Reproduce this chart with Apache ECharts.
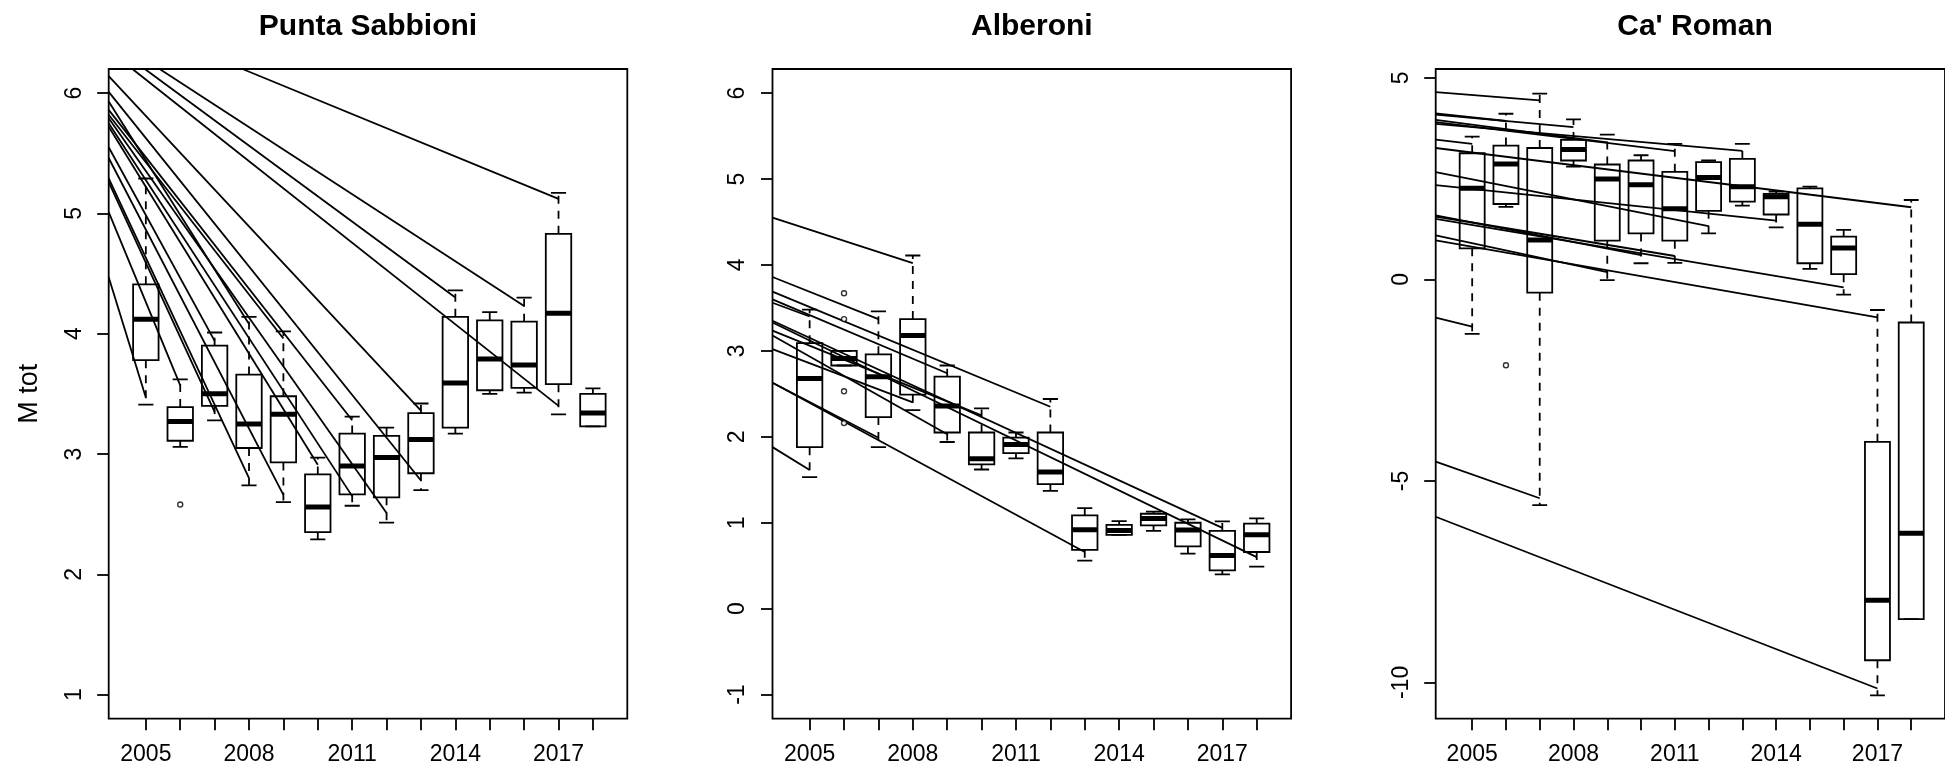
<!DOCTYPE html>
<html>
<head>
<meta charset="utf-8">
<script src="https://cdn.jsdelivr.net/npm/echarts@6/dist/echarts.min.js"></script>
<style>
html, body { margin: 0; padding: 0; background: #fff; }
#chart { width: 1945px; height: 768px; }
</style>
</head>
<body>
<div id="chart"></div>
<script>
// years on the x axis, labelled every third year
const years = [2005, 2006, 2007, 2008, 2009, 2010, 2011, 2012, 2013, 2014, 2015, 2016, 2017, 2018]
const yearLabels = [2005, 2008, 2011, 2014, 2017]
const xLeft = 2003.92
const xRight = 2019.0

// Punta Sabbioni: whisker ends, quartiles, median
const psLow = [3.41, 3.06, 3.28, 2.74, 2.60, 2.29, 2.57, 2.43, 2.70, 3.17, 3.50, 3.51, 3.33, 3.23]
const psQ1 = [3.78, 3.11, 3.40, 3.05, 2.93, 2.35, 2.665, 2.64, 2.84, 3.22, 3.53, 3.55, 3.58, 3.23]
const psMed = [4.12, 3.27, 3.50, 3.25, 3.33, 2.56, 2.90, 2.97, 3.12, 3.59, 3.79, 3.74, 4.17, 3.34]
const psQ3 = [4.41, 3.39, 3.90, 3.66, 3.48, 2.83, 3.17, 3.15, 3.34, 4.14, 4.11, 4.10, 4.83, 3.50]
const psHigh = [5.29, 3.62, 4.01, 4.14, 4.02, 2.97, 3.31, 3.22, 3.42, 4.36, 4.18, 4.30, 5.17, 3.545]
const psOut = [[2006, 2.58]]
const psTicks = [1, 2, 3, 4, 5, 6]
const psFrom = [[xLeft, 4.47], [xLeft, 5.01], [xLeft, 5.26], [xLeft, 5.29], [xLeft, 5.46], [xLeft, 5.55],
  [xLeft, 5.93], [xLeft, 5.82], [xLeft, 5.72], [xLeft, 5.86], [xLeft, 5.75], [xLeft, 5.79], [xLeft, 6.01],
  [xLeft, 6.14], [2004.61, 6.2], [2004.97, 6.2], [2005.40, 6.2], [2007.81, 6.2]]
const psTo = [[2005, 3.47], [2006, 3.57], [2007, 3.35], [2008, 2.80], [2009, 2.66], [2007, 3.94],
  [2008, 4.08], [2009, 3.96], [2010, 2.91], [2011, 3.28], [2011, 2.65], [2012, 2.51], [2013, 2.78],
  [2013, 3.36], [2017, 3.40], [2014, 4.30], [2016, 4.23], [2017, 5.12]]

// Alberoni
const alLow = [1.53, 2.83, 1.88, 2.31, 1.94, 1.62, 1.75, 1.37, 0.56, 0.86, 0.905, 0.64, 0.40, 0.49]
const alQ1 = [1.88, 2.83, 2.23, 2.49, 2.05, 1.68, 1.81, 1.45, 0.685, 0.86, 0.97, 0.725, 0.445, 0.66]
const alMed = [2.68, 2.91, 2.70, 3.18, 2.36, 1.745, 1.91, 1.59, 0.92, 0.91, 1.05, 0.915, 0.62, 0.86]
const alQ3 = [3.09, 3.00, 2.96, 3.37, 2.70, 2.05, 1.99, 2.05, 1.085, 0.975, 1.105, 1.00, 0.905, 0.99]
const alHigh = [3.48, 3.00, 3.46, 4.11, 2.83, 2.33, 2.05, 2.44, 1.17, 1.02, 1.13, 1.04, 1.015, 1.05]
const alOut = [[2006, 3.67], [2006, 3.37], [2006, 2.53], [2006, 2.16]]
const alTicks = [-1, 0, 1, 2, 3, 4, 5, 6]
const alFrom = [[xLeft, 4.55], [xLeft, 3.86], [xLeft, 3.69], [xLeft, 3.60], [xLeft, 3.56], [xLeft, 3.35],
  [xLeft, 3.33], [xLeft, 3.235], [xLeft, 3.18], [xLeft, 3.02], [xLeft, 2.63], [xLeft, 2.63], [xLeft, 1.88]]
const alTo = [[2008, 4.02], [2007, 3.37], [2012, 2.35], [2009, 2.74], [2005, 3.40], [2017, 0.94],
  [2018, 0.60], [2010, 2.25], [2009, 2.03], [2008, 2.40], [2013, 0.66], [2007, 1.99], [2005, 1.615]]

// Ca' Roman
const crLow = [-1.35, 1.80, -5.60, 2.80, -0.02, 0.40, 0.41, 1.14, 1.83, 1.29, 0.26, -0.38, -10.32, -8.43]
const crQ1 = [0.77, 1.87, -0.33, 2.95, 0.96, 1.14, 0.96, 1.70, 1.93, 1.61, 0.40, 0.13, -9.45, -8.43]
const crMed = [2.26, 2.86, 0.98, 3.22, 2.49, 2.35, 1.755, 2.53, 2.30, 2.05, 1.37, 0.78, -7.96, -6.30]
const crQ3 = [3.13, 3.32, 3.26, 3.46, 2.85, 2.95, 2.67, 2.91, 2.99, 2.12, 2.26, 1.06, -4.03, -1.07]
const crHigh = [3.54, 4.11, 4.61, 3.97, 3.59, 3.08, 3.36, 2.95, 3.36, 2.18, 2.30, 1.23, -0.76, 1.97]
const crOut = [[2006, -2.13]]
const crTicks = [-10, -5, 0, 5]
const crFrom = [[xLeft, 4.645], [xLeft, 4.12], [xLeft, 4.09], [xLeft, 3.96], [xLeft, 3.90], [xLeft, 3.86],
  [xLeft, 3.47], [xLeft, 3.26], [xLeft, 2.66], [xLeft, 2.34], [xLeft, 1.59], [xLeft, 1.56], [xLeft, 1.50],
  [xLeft, 1.09], [xLeft, 0.97], [xLeft, -0.95], [xLeft, -4.52], [xLeft, -5.89]]
const crTo = [[2007, 4.44], [2006, 3.93], [2008, 3.78], [2009, 3.40], [2011, 3.18], [2013, 3.19],
  [2005, 3.36], [2018, 1.79], [2012, 1.32], [2014, 1.46], [2010, 0.60], [2011, 0.58], [2016, -0.20],
  [2009, 0.18], [2017, -0.94], [2005, -1.17], [2007, -5.43], [2017, -10.15]]

const panels = [
  {title: 'Punta Sabbioni', low: psLow, q1: psQ1, med: psMed, q3: psQ3, high: psHigh, out: psOut,
    from: psFrom, to: psTo, ticks: psTicks, yMin: 0.8, yMax: 6.2, left: 108.7, yName: 'M tot'},
  {title: 'Alberoni', low: alLow, q1: alQ1, med: alMed, q3: alQ3, high: alHigh, out: alOut,
    from: alFrom, to: alTo, ticks: alTicks, yMin: -1.28, yMax: 6.28, left: 772.5, yName: ''},
  {title: "Ca' Roman", low: crLow, q1: crQ1, med: crMed, q3: crQ3, high: crHigh, out: crOut,
    from: crFrom, to: crTo, ticks: crTicks, yMin: -10.9, yMax: 5.22, left: 1435.7, yName: ''},
]

const FONT = "'Liberation Sans', Arial, sans-serif"
const gridW = 518.6
const gridH = 649.7
const gridTop = 69
const LW = 1.8

// R style box: open box, thick median, dashed whiskers, short staples
const renderBox = (params, api) => {
  const x = api.value(0)
  const lo = api.value(1), q1 = api.value(2), md = api.value(3), q3 = api.value(4), hi = api.value(5)
  const hw = 0.37, cw = 0.22
  const p = (a, b) => api.coord([a, b])
  const seg = (a, b, style) => ({type: 'line', shape: {x1: a[0], y1: a[1], x2: b[0], y2: b[1]}, style})
  const solid = {stroke: '#000', lineWidth: LW}
  const dashed = {stroke: '#000', lineWidth: LW, lineDash: [8, 7]}
  const tl = p(x - hw, q3)
  const br = p(x + hw, q1)
  return {
    type: 'group',
    children: [
      seg(p(x, q3), p(x, hi), dashed),
      seg(p(x, q1), p(x, lo), dashed),
      seg(p(x - cw, hi), p(x + cw, hi), solid),
      seg(p(x - cw, lo), p(x + cw, lo), solid),
      {type: 'rect', shape: {x: tl[0], y: tl[1], width: br[0] - tl[0], height: br[1] - tl[1]},
        style: {fill: 'none', stroke: '#000', lineWidth: LW}},
      seg(p(x - hw, md), p(x + hw, md), {stroke: '#000', lineWidth: 5}),
    ]
  }
}

const option = {animation: false, backgroundColor: '#fff', title: [], grid: [], xAxis: [], yAxis: [], series: []}

panels.forEach((pn, i) => {
  option.title.push({
    text: pn.title, left: pn.left + gridW / 2, top: 11.5, padding: 0, textAlign: 'center',
    textStyle: {fontFamily: FONT, fontSize: 30, fontWeight: 'bold', color: '#000'}
  })
  option.grid.push({
    left: pn.left, top: gridTop, width: gridW, height: gridH,
    show: true, borderColor: '#000', borderWidth: LW, backgroundColor: 'transparent'
  })
  option.xAxis.push({
    gridIndex: i, type: 'value', min: xLeft, max: xRight,
    axisLine: {show: false, onZero: false}, splitLine: {show: false},
    axisTick: {customValues: years, length: 11.5, lineStyle: {color: '#000', width: LW}},
    axisLabel: {customValues: yearLabels, color: '#000', fontSize: 23, fontFamily: FONT, margin: 24,
      formatter: (v) => String(Math.round(v))}
  })
  option.yAxis.push({
    gridIndex: i, type: 'value', min: pn.yMin, max: pn.yMax,
    name: pn.yName, nameLocation: 'middle', nameRotate: 90, nameGap: 66,
    nameTextStyle: {fontFamily: FONT, fontSize: 27, color: '#000'},
    axisLine: {show: false, onZero: false}, splitLine: {show: false},
    axisTick: {customValues: pn.ticks, length: 11.5, lineStyle: {color: '#000', width: LW}},
    axisLabel: {customValues: pn.ticks, rotate: 90, color: '#000', fontSize: 23, fontFamily: FONT, margin: 23,
      formatter: (v) => String(Math.round(v))}
  })
  option.series.push({
    type: 'lines', coordinateSystem: 'cartesian2d', xAxisIndex: i, yAxisIndex: i, silent: true, z: 2,
    lineStyle: {color: '#000', width: LW, opacity: 1, curveness: 0},
    data: pn.from.map((f, k) => ({coords: [f, pn.to[k]]}))
  })
  option.series.push({
    type: 'custom', xAxisIndex: i, yAxisIndex: i, clip: true, z: 3, silent: true,
    renderItem: renderBox,
    encode: {x: 0, y: [1, 2, 3, 4, 5]},
    data: years.map((y, k) => [y, pn.low[k], pn.q1[k], pn.med[k], pn.q3[k], pn.high[k]])
  })
  option.series.push({
    type: 'scatter', xAxisIndex: i, yAxisIndex: i, z: 4, silent: true,
    symbol: 'circle', symbolSize: 5,
    itemStyle: {color: '#fff', borderColor: '#000', borderWidth: 1.4},
    data: pn.out
  })
})

const chart = echarts.init(document.getElementById('chart'))
chart.setOption(option)
</script>
</body>
</html>
